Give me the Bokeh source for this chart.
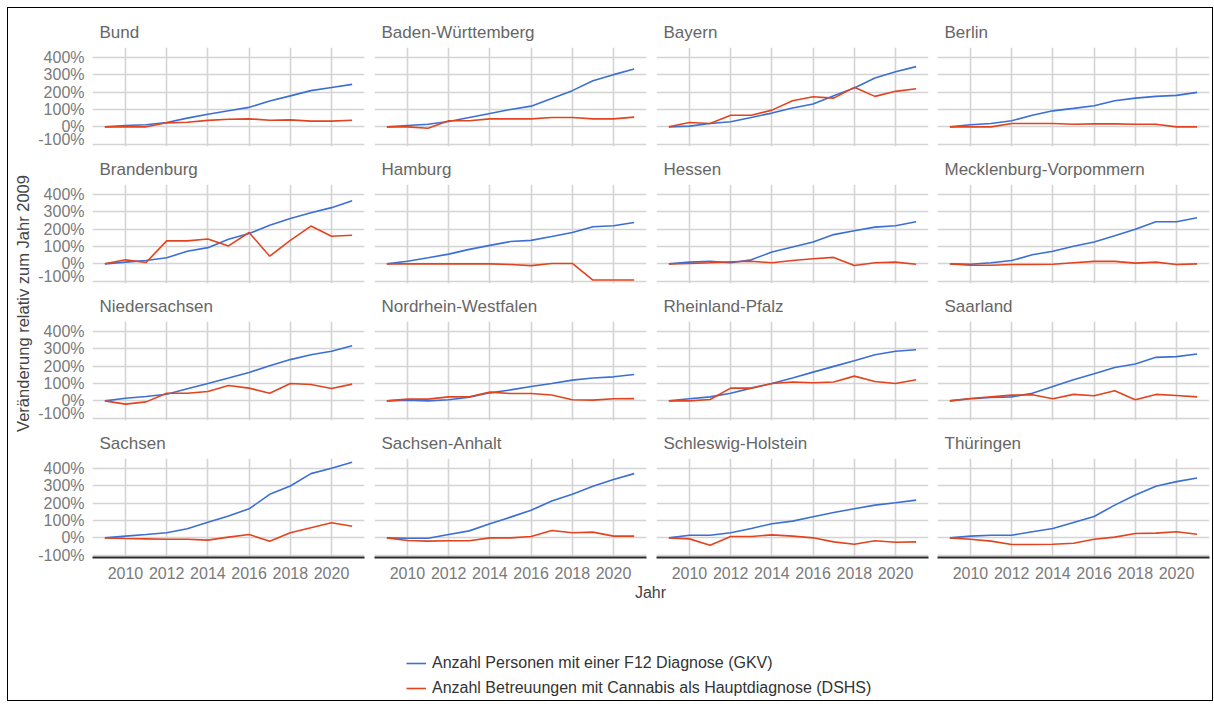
import math
from bokeh.plotting import figure
from bokeh.models import FixedTicker, PrintfTickFormatter, Range1d, Legend, LegendItem
from bokeh.layouts import row, column
from bokeh.embed import file_html
from bokeh.resources import INLINE
from bokeh.core.properties import value

# ---------------- data ----------------
years = [2009, 2010, 2011, 2012, 2013, 2014, 2015, 2016, 2017, 2018, 2019, 2020, 2021]
x_ticks = [2010, 2012, 2014, 2016, 2018, 2020]
y_ticks = [-100, 0, 100, 200, 300, 400]

states = ["Bund", "Baden-Württemberg", "Bayern", "Berlin",
          "Brandenburg", "Hamburg", "Hessen", "Mecklenburg-Vorpommern",
          "Niedersachsen", "Nordrhein-Westfalen", "Rheinland-Pfalz", "Saarland",
          "Sachsen", "Sachsen-Anhalt", "Schleswig-Holstein", "Thüringen"]

series_labels = ["Anzahl Personen mit einer F12 Diagnose (GKV)",
                 "Anzahl Betreuungen mit Cannabis als Hauptdiagnose (DSHS)"]

gkv_bund = [0, 8, 12, 25, 50, 72, 92, 112, 148, 178, 208, 226, 244]
dshs_bund = [0, 0, 0, 23, 26, 37, 44, 46, 38, 40, 33, 33, 38]
gkv_bw = [0, 8, 15, 31, 54, 77, 100, 119, 163, 208, 265, 300, 333]
dshs_bw = [0, 0, -8, 35, 35, 46, 46, 46, 54, 54, 46, 46, 56]
gkv_by = [0, 4, 19, 29, 54, 79, 108, 131, 179, 223, 281, 317, 346]
dshs_by = [0, 25, 19, 67, 67, 96, 150, 173, 165, 227, 175, 204, 219]
gkv_be = [0, 12, 19, 35, 67, 92, 106, 121, 150, 165, 175, 181, 198]
dshs_be = [0, 0, 0, 19, 19, 19, 15, 17, 17, 15, 15, 0, 0]
gkv_bb = [0, 10, 19, 35, 72, 93, 141, 174, 222, 261, 294, 323, 362]
dshs_bb = [0, 23, 8, 132, 132, 143, 103, 180, 44, 135, 217, 159, 164]
gkv_hh = [0, 15, 35, 56, 83, 106, 128, 135, 157, 180, 213, 219, 238]
dshs_hh = [0, 0, 0, 0, 0, 0, -4, -10, 2, 2, -93, -93, -93]
gkv_he = [0, 10, 14, 6, 23, 68, 97, 126, 168, 190, 211, 219, 242]
dshs_he = [0, 2, 6, 12, 15, 6, 19, 29, 37, -10, 6, 10, -2]
gkv_mv = [0, -2, 6, 19, 52, 72, 101, 126, 161, 199, 242, 242, 265]
dshs_mv = [0, -8, -8, -4, -4, -2, 6, 14, 14, 4, 10, -4, 0]
gkv_ni = [0, 15, 25, 38, 69, 100, 131, 163, 202, 237, 265, 285, 317]
dshs_ni = [0, -19, -6, 44, 44, 54, 88, 73, 44, 100, 94, 71, 96]
gkv_nw = [0, 4, 0, 6, 21, 46, 63, 82, 100, 119, 131, 138, 151]
dshs_nw = [0, 10, 10, 23, 23, 50, 42, 42, 34, 6, 4, 12, 13]
gkv_rp = [0, 12, 23, 44, 73, 100, 131, 165, 198, 231, 265, 285, 294]
dshs_rp = [0, 0, 8, 73, 73, 100, 108, 104, 108, 142, 111, 100, 121]
gkv_sl = [0, 12, 19, 23, 44, 83, 121, 156, 192, 212, 250, 254, 269]
dshs_sl = [0, 13, 23, 33, 35, 12, 37, 29, 58, 6, 37, 31, 23]
gkv_sn = [0, 10, 19, 29, 52, 90, 125, 167, 250, 298, 369, 400, 435]
dshs_sn = [0, -4, -6, -8, -8, -13, 4, 19, -19, 29, 58, 87, 67]
gkv_st = [0, -2, -2, 19, 40, 81, 119, 158, 212, 250, 296, 335, 369]
dshs_st = [0, -15, -19, -17, -17, 0, 0, 8, 42, 29, 33, 10, 10]
gkv_sh = [0, 15, 15, 29, 54, 81, 96, 121, 146, 167, 188, 202, 217]
dshs_sh = [0, -6, -42, 8, 8, 17, 10, 0, -23, -37, -17, -25, -23]
gkv_th = [0, 10, 15, 15, 35, 54, 88, 123, 188, 246, 296, 323, 344]
dshs_th = [0, -8, -19, -38, -38, -37, -31, -8, 4, 25, 27, 35, 21]

gkv_all = [gkv_bund, gkv_bw, gkv_by, gkv_be, gkv_bb, gkv_hh, gkv_he, gkv_mv,
           gkv_ni, gkv_nw, gkv_rp, gkv_sl, gkv_sn, gkv_st, gkv_sh, gkv_th]
dshs_all = [dshs_bund, dshs_bw, dshs_by, dshs_be, dshs_bb, dshs_hh, dshs_he, dshs_mv,
            dshs_ni, dshs_nw, dshs_rp, dshs_sl, dshs_sn, dshs_st, dshs_sh, dshs_th]

# ---------------- style ----------------
FONT = "Liberation Sans"
BLUE = "#3b6fd6"
RED = "#e2441f"
GRID = "#d4d4d4"
TICK_COLOR = "#7a7a7a"
STRIP_COLOR = "#666666"

col_w = [335, 282, 281, 280]
col_bl = [58, 5, 5, 5]
col_br = [5, 5, 4, 3]
row_h = [139, 137, 137, 162]
row_bt = [39, 37, 37, 37]
row_bb = [1, 1, 1, 26]

grid_rows = []
for r in range(4):
    figs = []
    for c in range(4):
        i = r * 4 + c
        p = figure(width=col_w[c], height=row_h[r], output_backend="svg", toolbar_location=None,
                   x_range=Range1d(2008.4, 2021.6), y_range=Range1d(-113, 456),
                   min_border_left=col_bl[c], min_border_right=col_br[c],
                   min_border_top=row_bt[r], min_border_bottom=row_bb[r],
                   title=states[i])
        p.outline_line_color = None
        p.background_fill_color = "white"
        p.border_fill_color = "white"
        p.title.text_font = FONT
        p.title.text_font_size = "17px"
        p.title.text_font_style = "normal"
        p.title.text_color = STRIP_COLOR
        p.title.offset = 7
        p.title.standoff = 11

        p.xgrid.ticker = FixedTicker(ticks=x_ticks)
        p.ygrid.ticker = FixedTicker(ticks=y_ticks)
        p.grid.grid_line_color = GRID
        p.grid.grid_line_width = 1.6

        p.line(years, gkv_all[i], color=BLUE, line_width=1.6)
        p.line(years, dshs_all[i], color=RED, line_width=1.6)

        p.xaxis.ticker = FixedTicker(ticks=x_ticks)
        p.xaxis.formatter = PrintfTickFormatter(format="%d")
        p.yaxis.ticker = FixedTicker(ticks=y_ticks)
        p.yaxis.formatter = PrintfTickFormatter(format="%d%%")
        for ax in (p.xaxis, p.yaxis):
            ax.major_tick_line_color = None
            ax.minor_tick_line_color = None
            ax.major_tick_out = 0
            ax.major_tick_in = 0
            ax.major_label_text_font = FONT
            ax.major_label_text_font_size = "16px"
            ax.major_label_text_color = TICK_COLOR
        p.yaxis.axis_line_color = None
        p.yaxis.major_label_standoff = 8
        p.xaxis.axis_line_color = "#2a2a2a"
        p.xaxis.axis_line_width = 2
        p.xaxis.major_label_standoff = 9
        if r < 3:
            p.xaxis.visible = False
        if c > 0:
            p.yaxis.visible = False
        figs.append(p)
    grid_rows.append(row(*figs))

# y-axis title
yl = figure(width=26, height=575, output_backend="svg", toolbar_location=None,
            x_range=Range1d(0, 26), y_range=Range1d(0, 575),
            min_border_left=0, min_border_right=0, min_border_top=0, min_border_bottom=0)
yl.xaxis.visible = False
yl.yaxis.visible = False
yl.grid.visible = False
yl.outline_line_color = None
yl.text(x=[14], y=[280], text=["Veränderung relativ zum Jahr 2009"], angle=math.pi / 2,
        text_align="center", text_baseline="middle", text_font=value(FONT),
        text_font_size="16.5px", text_color="#444444")

# bottom: x-axis title and legend
bf = figure(width=1204, height=117, output_backend="svg", toolbar_location=None,
            x_range=Range1d(0, 1204), y_range=Range1d(0, 117),
            min_border_left=0, min_border_right=0, min_border_top=0, min_border_bottom=0)
bf.xaxis.visible = False
bf.yaxis.visible = False
bf.grid.visible = False
bf.outline_line_color = None
bf.text(x=[642], y=[108], text=["Jahr"], text_align="center", text_baseline="middle",
        text_font=value(FONT), text_font_size="16px", text_color="#444444")
# legend proxies: the Bund series, which fall outside this strip's visible range
r1 = bf.line(years, gkv_bund, color=BLUE, line_width=1.6)
r2 = bf.line(years, dshs_bund, color=RED, line_width=1.6)
legend = Legend(items=[LegendItem(label=series_labels[0], renderers=[r1]),
                       LegendItem(label=series_labels[1], renderers=[r2])],
                location=(398, 2), orientation="vertical", padding=0, margin=0, spacing=5,
                glyph_width=20, glyph_height=20, label_height=20, label_standoff=6,
                border_line_alpha=0, background_fill_alpha=0,
                label_text_font=FONT, label_text_font_size="16px", label_text_color="#333333")
bf.add_layout(legend)

layout = column(row(yl, column(*grid_rows)), bf, margin=(8, 0, 0, 8),
                styles={"outline": "1px solid black"})

open("out.html", "w").write(file_html(layout, INLINE))
